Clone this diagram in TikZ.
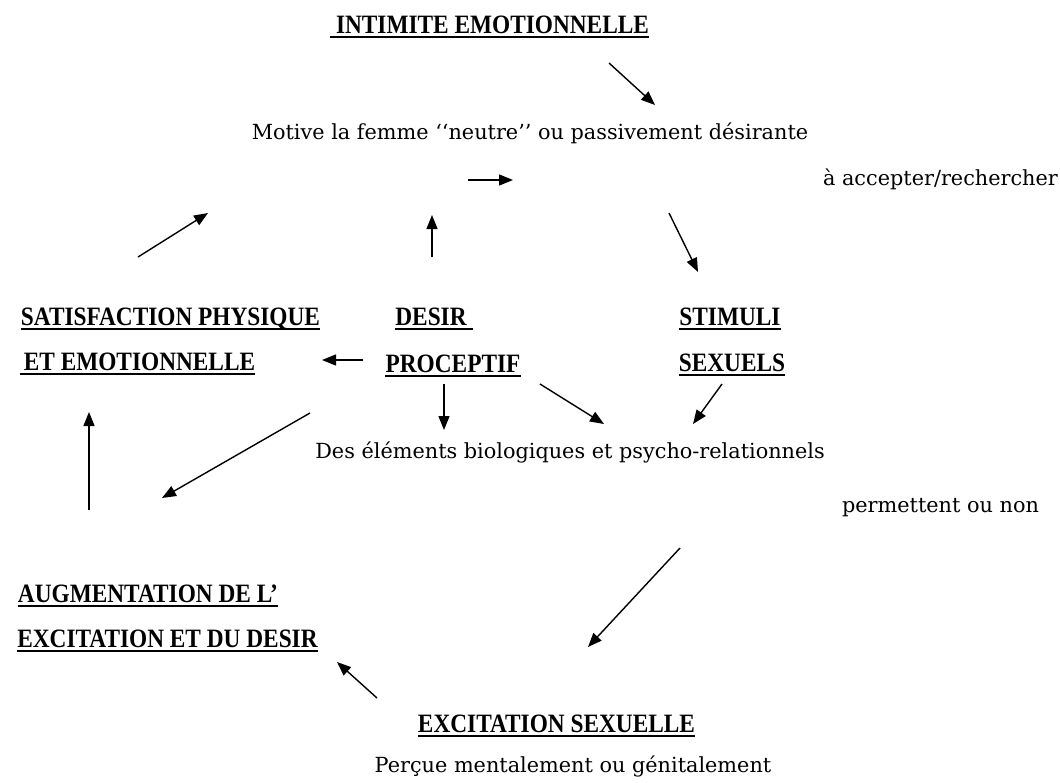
\documentclass[tikz,border=0pt]{standalone}
\usepackage{fontspec}
\setmainfont{Liberation Serif}
\newfontfamily\regfont{DejaVu Serif}
\usetikzlibrary{arrows.meta}
\newcommand{\hdtext}[1]{\scalebox{0.88}[1]{#1}}
\begin{document}
\begin{tikzpicture}[x=1pt,y=-1pt,
  reg/.style={anchor=base,inner sep=0pt,font=\regfont\fontsize{20.8}{25}\selectfont},
  hd/.style={anchor=base,inner sep=0pt,font=\fontsize{26.5}{30}\selectfont\bfseries},
  ulline/.style={line width=1.8pt},
  arr/.style={line width=1.4pt,-{Triangle[length=14pt,width=11pt]}}]
\useasboundingbox (0,0) rectangle (1060,782);
% texts
\node[hd]  (intim) at (492.5,33) {\hdtext{INTIMITE EMOTIONNELLE}};
\node[reg] (motive) at (530,139) {Motive la femme ‘‘neutre’’ ou passivement désirante};
\node[reg] (accept) at (940.5,185) {à accepter/rechercher};
\node[hd]  (satis1) at (170.5,325) {\hdtext{SATISFACTION PHYSIQUE}};
\node[hd]  (satis2) at (139.5,370) {\hdtext{ET EMOTIONNELLE}};
\node[hd]  (desir1) at (431,325) {\hdtext{DESIR}};
\node[hd]  (desir2) at (453,372) {\hdtext{PROCEPTIF}};
\node[hd]  (stim1) at (730,325) {\hdtext{STIMULI}};
\node[hd]  (stim2) at (732,371) {\hdtext{SEXUELS}};
\node[reg] (elem) at (570,458) {Des éléments biologiques et psycho-relationnels};
\node[reg] (perm) at (940.5,512) {permettent ou non};
\node[hd]  (augm1) at (148,602) {\hdtext{AUGMENTATION DE L’}};
\node[hd]  (augm2) at (167.5,647) {\hdtext{EXCITATION ET DU DESIR}};
\node[hd]  (excit) at (556.5,732) {\hdtext{EXCITATION SEXUELLE}};
\node[reg] (percu) at (573,772) {Perçue mentalement ou génitalement};
% underlines
\draw[ulline] ([xshift=-6pt,yshift=-4pt]intim.base west) -- ([yshift=-4pt]intim.base east);
\draw[ulline] ([yshift=-4pt]satis1.base west) -- ([yshift=-4pt]satis1.base east);
\draw[ulline] ([xshift=-4pt,yshift=-4pt]satis2.base west) -- ([yshift=-4pt]satis2.base east);
\draw[ulline] ([yshift=-4pt]desir1.base west) -- ([xshift=6pt,yshift=-4pt]desir1.base east);
\draw[ulline] ([yshift=-4pt]desir2.base west) -- ([yshift=-4pt]desir2.base east);
\draw[ulline] ([yshift=-4pt]stim1.base west) -- ([yshift=-4pt]stim1.base east);
\draw[ulline] ([yshift=-4pt]stim2.base west) -- ([yshift=-4pt]stim2.base east);
\draw[ulline] ([yshift=-4pt]augm1.base west) -- ([yshift=-4pt]augm1.base east);
\draw[ulline] ([yshift=-4pt]augm2.base west) -- ([yshift=-4pt]augm2.base east);
\draw[ulline] ([yshift=-4pt]excit.base west) -- ([yshift=-4pt]excit.base east);
% arrow end points
\coordinate (a1s) at (609,63);   \coordinate (a1e) at (655,105);
\coordinate (a2s) at (468,180);  \coordinate (a2e) at (513,180);
\coordinate (a3s) at (138,257);  \coordinate (a3e) at (208,213);
\coordinate (a4s) at (432,257);  \coordinate (a4e) at (432,215);
\coordinate (a5s) at (669,213);  \coordinate (a5e) at (698,272);
\coordinate (a6s) at (363,360);  \coordinate (a6e) at (322,360);
\coordinate (a7s) at (444,384);  \coordinate (a7e) at (444,430);
\coordinate (a8s) at (540,384);  \coordinate (a8e) at (604,424);
\coordinate (a9s) at (722,384);  \coordinate (a9e) at (693,424);
\coordinate (a10s) at (89,510);  \coordinate (a10e) at (89,412);
\coordinate (a11s) at (310,413); \coordinate (a11e) at (162,498);
\coordinate (a12s) at (680,548); \coordinate (a12e) at (588,647);
\coordinate (a13s) at (377,698); \coordinate (a13e) at (337,662);
\foreach \i in {1,...,13} {\draw[arr] (a\i s) -- (a\i e);}
\end{tikzpicture}
\end{document}
